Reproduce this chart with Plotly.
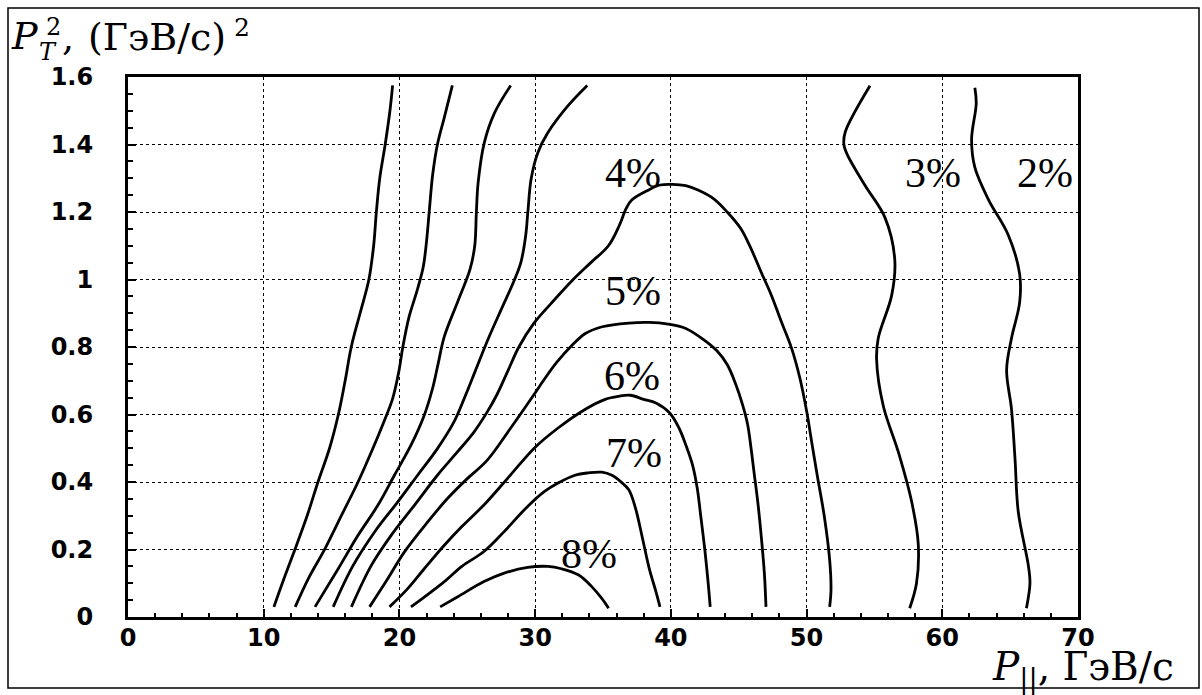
import plotly.graph_objects as go

# ---------------- data ----------------
# Contour lines, P_par [GeV/c] vs P_T^2 [(GeV/c)^2]
line_a_x = [10.75, 11.55, 12.3, 13.2, 14.0, 14.85, 15.5, 16.0, 16.45, 17.1, 17.75, 18.1, 18.3, 18.55, 18.95, 19.3, 19.5]
line_a_y = [0.03, 0.12, 0.2, 0.3, 0.4, 0.5, 0.6, 0.7, 0.8, 0.9, 1.0, 1.1, 1.2, 1.3, 1.4, 1.5, 1.575]

line_b_x = [12.32, 13.29, 14.51, 15.73, 16.95, 17.93, 18.85, 19.5, 19.95, 20.25, 20.7, 21.3, 21.75, 22.0, 22.2, 22.45, 22.8, 23.3, 23.9]
line_b_y = [0.03, 0.114, 0.202, 0.301, 0.4, 0.489, 0.578, 0.647, 0.726, 0.8, 0.888, 0.967, 1.036, 1.114, 1.203, 1.311, 1.4, 1.479, 1.575]

line_c_x = [13.78, 15.49, 16.95, 18.41, 19.63, 20.85, 21.83, 22.44, 22.85, 23.3, 24.3, 25.2, 25.55, 25.67, 25.8, 26.25, 27.0, 28.2]
line_c_y = [0.03, 0.143, 0.242, 0.331, 0.42, 0.509, 0.598, 0.677, 0.75, 0.83, 0.935, 1.03, 1.1, 1.2, 1.287, 1.405, 1.493, 1.575]

line_d_x = [15.12, 16.55, 18.17, 19.88, 21.34, 22.8, 24.02, 24.8, 25.6, 26.5, 27.52, 28.4, 28.95, 29.3, 29.46, 29.7, 30.19, 30.92, 32.38, 33.84]
line_d_y = [0.03, 0.15, 0.252, 0.341, 0.42, 0.499, 0.578, 0.65, 0.73, 0.82, 0.913, 0.992, 1.051, 1.129, 1.198, 1.297, 1.375, 1.434, 1.513, 1.575]

pct4_x = [16.46, 17.93, 19.39, 21.1, 22.8, 24.27, 25.49, 26.46, 27.2, 28.0, 28.8, 29.9, 31.2, 32.8, 34.1, 35.4, 36.2, 36.7, 37.1, 38.4, 39.2, 40.1, 41.1, 42.0, 43.16, 44.15, 45.15, 45.9, 46.64, 47.39, 48.13, 48.88, 49.5, 50.0, 50.4, 50.8, 51.3, 51.7, 51.8, 51.7]
pct4_y = [0.03, 0.153, 0.242, 0.331, 0.42, 0.489, 0.548, 0.607, 0.66, 0.73, 0.8, 0.87, 0.93, 1.0, 1.05, 1.1, 1.16, 1.21, 1.235, 1.266, 1.28, 1.282, 1.278, 1.265, 1.239, 1.2, 1.151, 1.092, 1.023, 0.955, 0.876, 0.798, 0.709, 0.611, 0.513, 0.416, 0.3, 0.17, 0.08, 0.03]

pct5_x = [17.8, 19.15, 20.37, 22.07, 23.54, 25.0, 26.46, 28.2, 29.88, 30.6, 31.6, 32.72, 33.7, 34.94, 36.91, 38.4, 39.8, 41.1, 42.41, 43.41, 44.15, 44.78, 45.27, 45.65, 45.9, 46.14, 46.39, 46.64, 46.89, 47.01]
pct5_y = [0.03, 0.114, 0.193, 0.281, 0.351, 0.41, 0.464, 0.56, 0.657, 0.7, 0.755, 0.805, 0.84, 0.86, 0.871, 0.873, 0.868, 0.855, 0.822, 0.788, 0.748, 0.69, 0.631, 0.572, 0.503, 0.425, 0.346, 0.248, 0.13, 0.03]

pct6_x = [19.27, 20.61, 21.83, 23.29, 24.6, 26.3, 28.21, 29.95, 31.69, 33.67, 35.16, 36.15, 37.0, 38.0, 38.9, 39.9, 40.6, 41.1, 41.6, 41.95, 42.2, 42.5, 42.75, 42.9]
pct6_y = [0.03, 0.084, 0.143, 0.212, 0.268, 0.335, 0.422, 0.501, 0.56, 0.615, 0.645, 0.654, 0.657, 0.645, 0.634, 0.605, 0.56, 0.51, 0.45, 0.38, 0.3, 0.2, 0.1, 0.03]

pct7_x = [20.85, 21.83, 23.29, 24.6, 26.23, 27.72, 29.21, 30.69, 31.69, 32.93, 33.92, 34.91, 35.66, 36.28, 36.9, 37.39, 37.9, 38.4, 38.9, 39.2]
pct7_y = [0.03, 0.059, 0.104, 0.15, 0.194, 0.253, 0.318, 0.372, 0.397, 0.42, 0.427, 0.429, 0.42, 0.402, 0.377, 0.323, 0.235, 0.145, 0.075, 0.03]

pct8_x = [23.0, 24.3, 26.23, 27.72, 29.45, 30.94, 31.94, 33.18, 34.17, 34.91, 35.41]
pct8_y = [0.03, 0.06, 0.105, 0.13, 0.147, 0.15, 0.143, 0.125, 0.09, 0.055, 0.026]

pct3_x = [57.6, 58.1, 58.23, 57.74, 56.76, 55.65, 55.16, 55.28, 56.27, 56.5, 55.77, 54.3, 53.0, 52.75, 52.85, 54.67]
pct3_y = [0.026, 0.1, 0.216, 0.342, 0.489, 0.626, 0.763, 0.826, 0.953, 1.058, 1.184, 1.279, 1.37, 1.4, 1.437, 1.574]

pct2_x = [66.2, 66.46, 66.34, 65.6, 65.36, 65.1, 64.74, 65.1, 65.7, 65.7, 64.86, 63.4, 62.4, 62.16, 62.5, 62.4]
pct2_y = [0.026, 0.1, 0.153, 0.311, 0.468, 0.616, 0.732, 0.826, 0.932, 1.016, 1.132, 1.237, 1.332, 1.416, 1.521, 1.568]

contour_x = [line_a_x, line_b_x, line_c_x, line_d_x, pct4_x, pct5_x, pct6_x, pct7_x, pct8_x, pct3_x, pct2_x]
contour_y = [line_a_y, line_b_y, line_c_y, line_d_y, pct4_y, pct5_y, pct6_y, pct7_y, pct8_y, pct3_y, pct2_y]

label_text = ["4%", "5%", "6%", "7%", "8%", "3%", "2%"]
label_x = [37.2, 37.2, 37.1, 37.25, 34.0, 59.35, 67.6]
label_y = [1.315, 0.966, 0.715, 0.486, 0.186, 1.315, 1.315]

x_tickvals = [0, 10, 20, 30, 40, 50, 60, 70]
y_tickvals = [0, 0.2, 0.4, 0.6, 0.8, 1.0, 1.2, 1.4, 1.6]
y_ticktext = ["0", "0.2", "0.4", "0.6", "0.8", "1", "1.2", "1.4", "1.6"]

# ---------------- figure ----------------
W, H = 1202, 695
ML, MR, MT, MB = 128, 124, 77, 78
PW, PH = W - ML - MR, H - MT - MB


def px(xp):
    return (xp - ML) / PW


def py(yp):
    return (H - MB - yp) / PH


fig = go.Figure()
for xs, ys in zip(contour_x, contour_y):
    fig.add_trace(go.Scatter(
        x=xs, y=ys, mode="lines",
        line=dict(color="black", width=2.8, shape="spline", smoothing=1.0),
        hoverinfo="skip", showlegend=False))

ann = []
for t, xv, yv in zip(label_text, label_x, label_y):
    ann.append(dict(x=xv, y=yv, xref="x", yref="y", text=t, showarrow=False,
                    font=dict(family="Liberation Serif", size=42, color="black")))

tfont = "DejaVu Serif"


def ptext(text, xp, yp, size, xanchor="left"):
    return dict(x=px(xp), y=py(yp), xref="paper", yref="paper", xanchor=xanchor,
                yanchor="middle", text=text, showarrow=False,
                font=dict(family=tfont, size=size, color="black"))


# y-axis title pieces: P^2_T, (ГэВ/c)^2
ann += [
    ptext("<i>P</i>", 9, 36, 38),
    ptext("2", 44, 27, 24),
    ptext("<i>T</i>", 37, 52, 24),
    ptext(",", 60, 37, 38),
    ptext("(ГэВ/c)", 228, 37, 38, xanchor="right"),
    ptext("2", 232, 27, 25),
]
# x-axis title
ann.append(ptext("<i>P</i><sub>||</sub>, ГэВ/c", 1176, 669, 39, xanchor="right"))

tickfont = dict(family="DejaVu Sans", size=24, color="black", weight="bold")
axis_common = dict(
    showline=True, linewidth=3, linecolor="black", mirror=True,
    ticks="inside", ticklen=8, tickwidth=1.5, tickcolor="black",
    showgrid=True, gridcolor="black", gridwidth=1, griddash="dot",
    zeroline=False, tickfont=tickfont,
)

fig.update_layout(
    width=W, height=H,
    margin=dict(l=ML, r=MR, t=MT, b=MB),
    paper_bgcolor="white", plot_bgcolor="white",
    xaxis=dict(range=[0, 70], tickvals=x_tickvals,
               minor=dict(dtick=2, tick0=0, ticks="inside", ticklen=4, tickcolor="black", showgrid=False),
               ticklabelstandoff=-3, **axis_common),
    yaxis=dict(range=[0, 1.6], tickvals=y_tickvals, ticktext=y_ticktext,
               minor=dict(dtick=0.05, tick0=0, ticks="inside", ticklen=5, tickcolor="black", showgrid=False),
               ticklabelstandoff=27, **axis_common),
    annotations=ann,
    shapes=[dict(type="rect", xref="paper", yref="paper",
                 x0=px(8), x1=px(1199), y0=py(688), y1=py(8),
                 line=dict(color="black", width=1.5))],
)

fig.write_html("out.html", config={"displayModeBar": False},
               post_script="document.body.style.margin='0px';document.body.style.overflow='hidden';")
